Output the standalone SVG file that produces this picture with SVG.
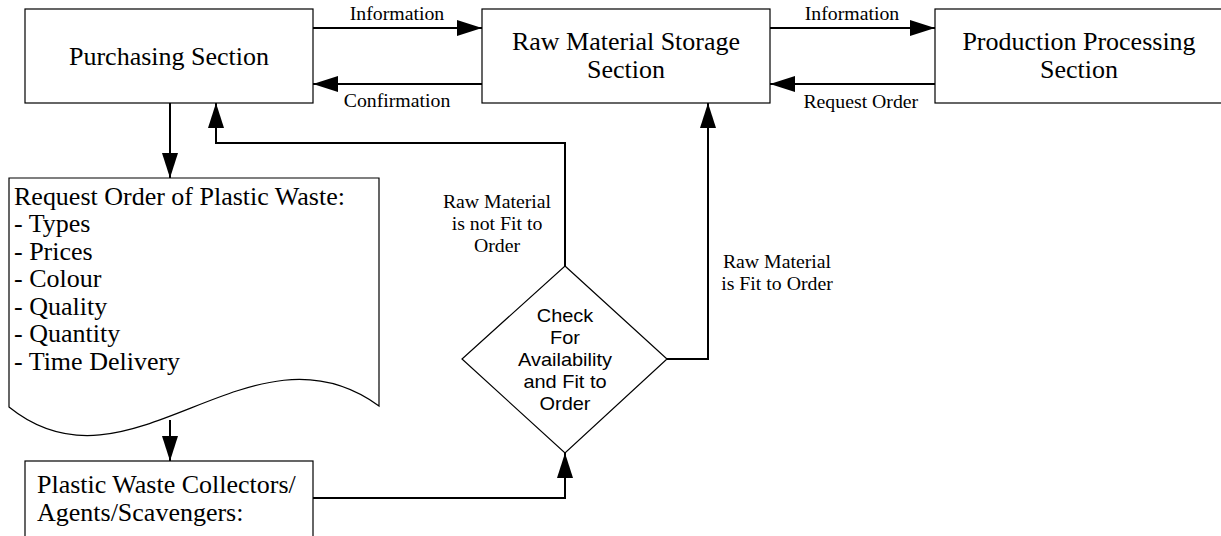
<svg xmlns="http://www.w3.org/2000/svg" width="1221" height="536" viewBox="0 0 1221 536">
<style>
.box{fill:#fff;stroke:#000;stroke-width:1.2}
.con{fill:none;stroke:#000;stroke-width:2}
.t{font-family:"Liberation Serif","Times New Roman",serif;font-size:25px;fill:#000}
.l{font-family:"Liberation Serif","Times New Roman",serif;font-size:18px;fill:#000;text-anchor:middle}
.s{font-family:"Liberation Sans",Arial,sans-serif;font-size:19px;fill:#000;text-anchor:middle}
.m{text-anchor:middle}
</style>
<defs>
<marker id="ah" viewBox="0 0 25 16" refX="25" refY="8" markerWidth="25" markerHeight="16" markerUnits="userSpaceOnUse" orient="auto">
<path d="M0,0 L25,8 L0,16 Z" fill="#000"/>
</marker>
</defs>
<rect width="1221" height="536" fill="#fff"/>

<g id="purchasing">
<rect class="box" x="25" y="9" width="288" height="94"/>
<g transform="translate(169,0) scale(1.04,1)"><text class="t m" x="0" y="65">Purchasing Section</text></g>
</g>

<g id="storage">
<rect class="box" x="482" y="9" width="288" height="94"/>
<g transform="translate(626,0) scale(1.04,1)"><text class="t m" x="0" y="50">Raw Material Storage</text><text class="t m" x="0" y="78">Section</text></g>
</g>

<g id="production">
<rect class="box" x="935" y="9" width="290" height="94"/>
<g transform="translate(1079,0) scale(1.04,1)"><text class="t m" x="0" y="50">Production Processing</text><text class="t m" x="0" y="78">Section</text></g>
</g>

<g id="request-doc">
<path class="box" d="M9,178 H379 V406 C250,312 130,505 9,407 Z"/>
<g transform="translate(14,0) scale(1.04,1)">
<text class="t" x="0" y="205">Request Order of Plastic Waste:</text>
<text class="t" x="0" y="232.5">- Types</text>
<text class="t" x="0" y="260">- Prices</text>
<text class="t" x="0" y="287.5">- Colour</text>
<text class="t" x="0" y="315">- Quality</text>
<text class="t" x="0" y="342.5">- Quantity</text>
<text class="t" x="0" y="370">- Time Delivery</text>
</g>
</g>

<g id="collectors">
<rect class="box" x="25" y="461" width="288" height="90"/>
<g transform="translate(37,0) scale(1.04,1)">
<text class="t" x="0" y="493">Plastic Waste Collectors/</text>
<text class="t" x="0" y="521">Agents/Scavengers:</text>
</g>
</g>

<g id="check">
<polygon class="box" points="565,266 667,359 565,453 462,359"/>
<g transform="translate(565,0) scale(1.05,1)">
<text class="s" x="0" y="322">Check</text>
<text class="s" x="0" y="344">For</text>
<text class="s" x="0" y="366">Availability</text>
<text class="s" x="0" y="388">and Fit to</text>
<text class="s" x="0" y="410">Order</text>
</g>
</g>

<g id="connectors">
<path class="con" d="M313,28 H482" marker-end="url(#ah)"/>
<path class="con" d="M482,84 H313" marker-end="url(#ah)"/>
<path class="con" d="M770,28 H935" marker-end="url(#ah)"/>
<path class="con" d="M935,84 H770" marker-end="url(#ah)"/>
<path class="con" d="M170,103 V178" marker-end="url(#ah)"/>
<path class="con" d="M565,266 V143 H216 V103" marker-end="url(#ah)"/>
<path class="con" d="M667,359 H708 V103" marker-end="url(#ah)"/>
<path class="con" d="M170,420 V461" marker-end="url(#ah)"/>
<path class="con" d="M313,498 H565 V453" marker-end="url(#ah)"/>
</g>

<g id="labels">
<g transform="translate(397,0) scale(1.1,1)"><text class="l" x="0" y="20">Information</text><text class="l" x="0" y="107">Confirmation</text></g>
<g transform="translate(852,0) scale(1.1,1)"><text class="l" x="0" y="20">Information</text><text class="l" x="8" y="108">Request Order</text></g>
<g transform="translate(497,0) scale(1.1,1)"><text class="l" x="0" y="208">Raw Material</text><text class="l" x="0" y="230">is not Fit to</text><text class="l" x="0" y="252">Order</text></g>
<g transform="translate(777,0) scale(1.1,1)"><text class="l" x="0" y="268">Raw Material</text><text class="l" x="0" y="290">is Fit to Order</text></g>
</g>
</svg>
